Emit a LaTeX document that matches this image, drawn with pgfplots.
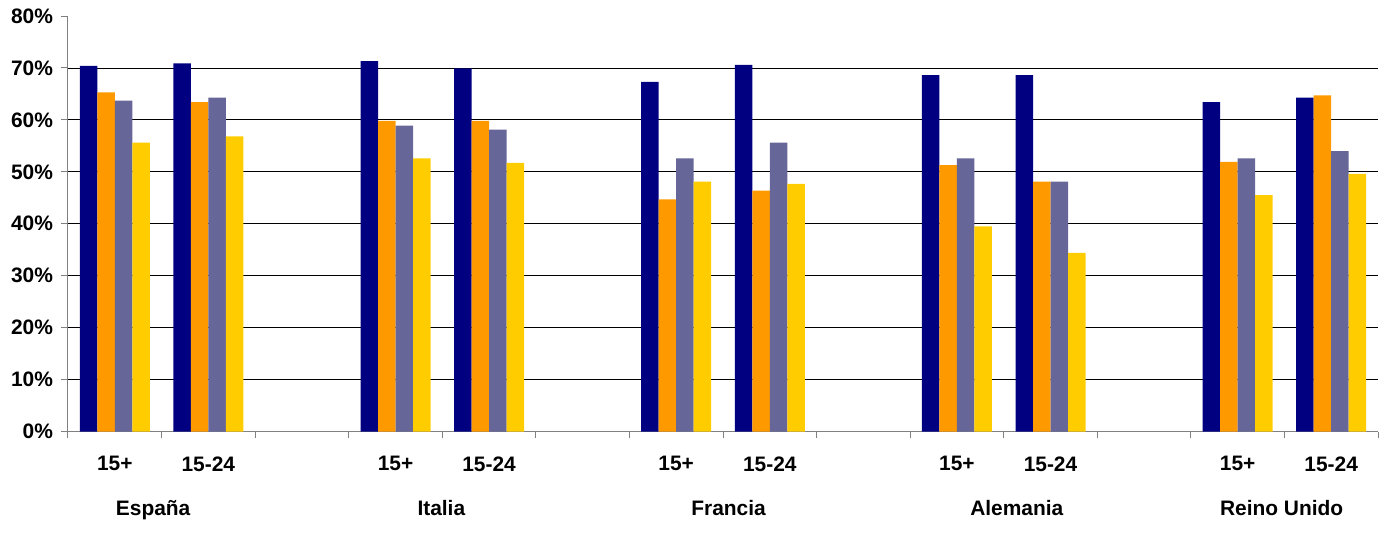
\documentclass[border=0pt]{standalone}
\usepackage{fontspec}
\setmainfont{Liberation Sans}
\usepackage{pgfplots}
\usepackage{pgfplotstable}
\pgfplotsset{compat=1.18}

\definecolor{azul}{HTML}{000080}
\definecolor{naranja}{HTML}{FF9900}
\definecolor{pizarra}{HTML}{666699}
\definecolor{amarillo}{HTML}{FFCC00}

% slots: 15+ / 15-24 per country, one empty slot between countries
\pgfplotstableread{
x  a    b    c    d
0  70.4 65.3 63.7 55.6
1  70.9 63.4 64.3 56.8
3  71.3 59.8 58.9 52.6
4  69.9 59.8 58.1 51.7
6  67.3 44.7 52.6 48.1
7  70.6 46.4 55.6 47.7
9  68.6 51.3 52.6 39.5
10 68.6 48.1 48.1 34.4
12 63.4 51.9 52.6 45.5
13 64.3 64.7 54.0 49.6
}\datos

\begin{document}
\begin{tikzpicture}
\begin{axis}[
  scale only axis,
  width=1310bp, height=415.5bp,
  ybar=0pt, bar width=0.187,
  xmin=-0.5, xmax=13.5,
  ymin=0, ymax=80,
  clip=false,
  axis x line*=bottom, axis y line*=left,
  axis line style={gray, line width=1bp},
  tick align=outside, major tick length=6.5bp,
  tick label style={font=\bfseries\fontsize{21}{25}\selectfont},
  ytick={0,10,...,80},
  yticklabels={0\%,10\%,20\%,30\%,40\%,50\%,60\%,70\%,80\%},
  yticklabel style={xshift=-5bp},
  ytick style={draw=gray, line width=1bp},
  extra y ticks={10,20,...,70},
  extra y tick labels={},
  extra y tick style={grid=major, major tick length=0pt},
  major grid style={black, line width=0.8bp},
  xtick={0,1,3,4,6,7,9,10,12,13},
  xticklabels={15+,15-24,15+,15-24,15+,15-24,15+,15-24,15+,15-24},
  xtick style={draw=none},
  xticklabel style={yshift=-15bp},
  extra x ticks={-0.5,0.5,...,13.5},
  extra x tick labels={},
  extra x tick style={xtick style={draw=gray, line width=1bp}},
]
\addplot[fill=azul, draw=none] table[x=x, y=a] {\datos};
\addplot[fill=naranja, draw=none] table[x=x, y=b] {\datos};
\addplot[fill=pizarra, draw=none] table[x=x, y=c] {\datos};
\addplot[fill=amarillo, draw=none] table[x=x, y=d] {\datos};

\begin{scope}[every node/.style={anchor=base, yshift=-83.5bp, font=\bfseries\fontsize{21}{25}\selectfont}]
\node at (axis cs:0.41,0) {España};
\node at (axis cs:3.49,0) {Italia};
\node at (axis cs:6.56,0) {Francia};
\node at (axis cs:9.64,0) {Alemania};
\node at (axis cs:12.47,0) {Reino Unido};
\end{scope}

\path ([xshift=-68bp,yshift=-103.5bp]rel axis cs:0,0) rectangle ([xshift=10bp,yshift=16bp]rel axis cs:1,1);
\end{axis}
\end{tikzpicture}
\end{document}
